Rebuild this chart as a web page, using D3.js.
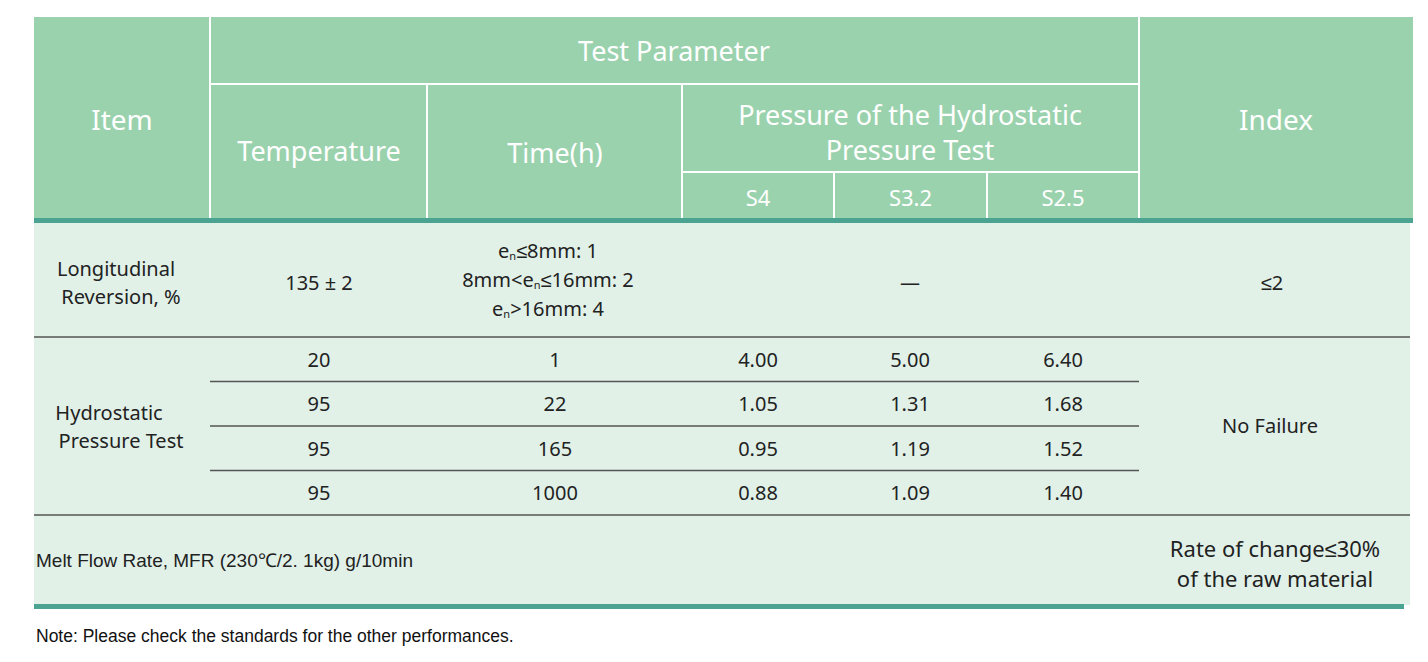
<!DOCTYPE html>
<html><head><meta charset="utf-8">
<script src="https://cdn.jsdelivr.net/npm/d3@7"></script>
<style>body{margin:0;background:#fff}</style></head>
<body><svg id="c" width="1428" height="662"></svg>
<script>
const colEdges=[34,210,427,682,834,987,1139,1412];
const pressureLabels=["S4","S3.2","S2.5"];
const hydroTemps=["20","95","95","95"];
const hydroTimes=["1","22","165","1000"];
const s4=["4.00","1.05","0.95","0.88"];
const s32=["5.00","1.31","1.19","1.40".replace("1.40","1.09")];
const s25=["6.40","1.68","1.52","1.40"];
const svg=d3.select("#c");
const HF="'Noto Sans',sans-serif", AF="'Liberation Sans',Arial,sans-serif";
const hdr="#9bd2ae", body="#e1f1e8", teal="#4ba491", line="#555";
// header
svg.append("rect").attr("x",34).attr("y",17).attr("width",1379).attr("height",203).attr("fill",hdr);
const wl=(x1,y1,x2,y2)=>svg.append("line").attr("x1",x1).attr("y1",y1).attr("x2",x2).attr("y2",y2).attr("stroke","#fff").attr("stroke-width",2);
wl(210,17,210,220);wl(1139,17,1139,220);wl(210,84,1139,84);wl(427,84,427,220);wl(682,84,682,220);wl(682,172,1139,172);wl(834,172,834,220);wl(987,172,987,220);
const t=(x,y,s,size,fill,font,anchor)=>svg.append("text").attr("x",x).attr("y",y).attr("text-anchor",anchor||"middle").attr("dominant-baseline","central").attr("font-family",font||HF).attr("font-size",size).attr("fill",fill).text(s);
t(122,119,"Item",28,"#fff");t(674,50,"Test Parameter",27,"#fff");
t(319,150,"Temperature",27,"#fff");t(555,152,"Time(h)",27,"#fff");
t(910,114,"Pressure of the Hydrostatic",27,"#fff");t(910,149,"Pressure Test",27,"#fff");
pressureLabels.forEach((p,i)=>t((colEdges[3+i]+colEdges[4+i])/2,197,p,22,"#fff"));
t(1276,119,"Index",28,"#fff");
// body
svg.append("rect").attr("x",34).attr("y",222).attr("width",1376).attr("height",383).attr("fill",body);
svg.append("rect").attr("x",34).attr("y",218).attr("width",1379).attr("height",5).attr("fill",teal);
svg.append("rect").attr("x",34).attr("y",604).attr("width",1370).attr("height",5).attr("fill",teal);
const dl=(x1,y1,x2,y2)=>svg.append("line").attr("x1",x1).attr("y1",y1).attr("x2",x2).attr("y2",y2).attr("stroke",line).attr("stroke-width",1.3);
dl(34,337,1410,337);dl(34,515,1410,515);
const y=d3.scaleBand().domain(d3.range(4)).range([337,515]);
d3.range(1,4).forEach(i=>dl(210,y(i),1139,y(i)));
const D="#222";
t(116,268,"Longitudinal",20,D);t(121,296,"Reversion, %",20,D);
t(319,282,"135 ± 2",20,D);
const tm=[[["e",true],["≤8mm: 1"]],[["8mm<e"],["n",false],["≤16mm: 2"]],[["e"],["n",false],[">16mm: 4"]]];
[[["e"],["n",false],["≤8mm: 1"]],tm[1],tm[2]].forEach((parts,i)=>{
 const tx=svg.append("text").attr("x",548).attr("y",250+i*29).attr("text-anchor","middle").attr("dominant-baseline","central").attr("font-family",HF).attr("font-size",20).attr("fill",D);
 parts.forEach(p=>{const s=tx.append("tspan").text(p[0]);if(p[1]===false){s.attr("font-size",11).attr("dy",5);} else if(p[0]!==parts[0][0]){s.attr("dy",-5);} });
});
t(910,282,"—",20,D);t(1272,282,"≤2",20,D);
t(109,412,"Hydrostatic",20,D);t(121,440,"Pressure Test",20,D);
const rows=d3.range(4);
rows.forEach(i=>{const cy=y(i)+y.bandwidth()/2;
 t(319,cy,hydroTemps[i],20,D);t(555,cy,hydroTimes[i],20,D);
 t(758,cy,s4[i],20,D);t(910,cy,s32[i],20,D);t(1063,cy,s25[i],20,D);});
t(1270,425,"No Failure",20,D);
t(36,560,"Melt  Flow  Rate,  MFR (230℃/2. 1kg)    g/10min",19,D,AF,"start");
t(1275,548,"Rate of change≤30%",22,D);t(1275,578,"of the raw material",22,D);
t(36,636,"Note: Please check the standards for the other performances.",17.5,"#111",AF,"start");
</script></body></html>
